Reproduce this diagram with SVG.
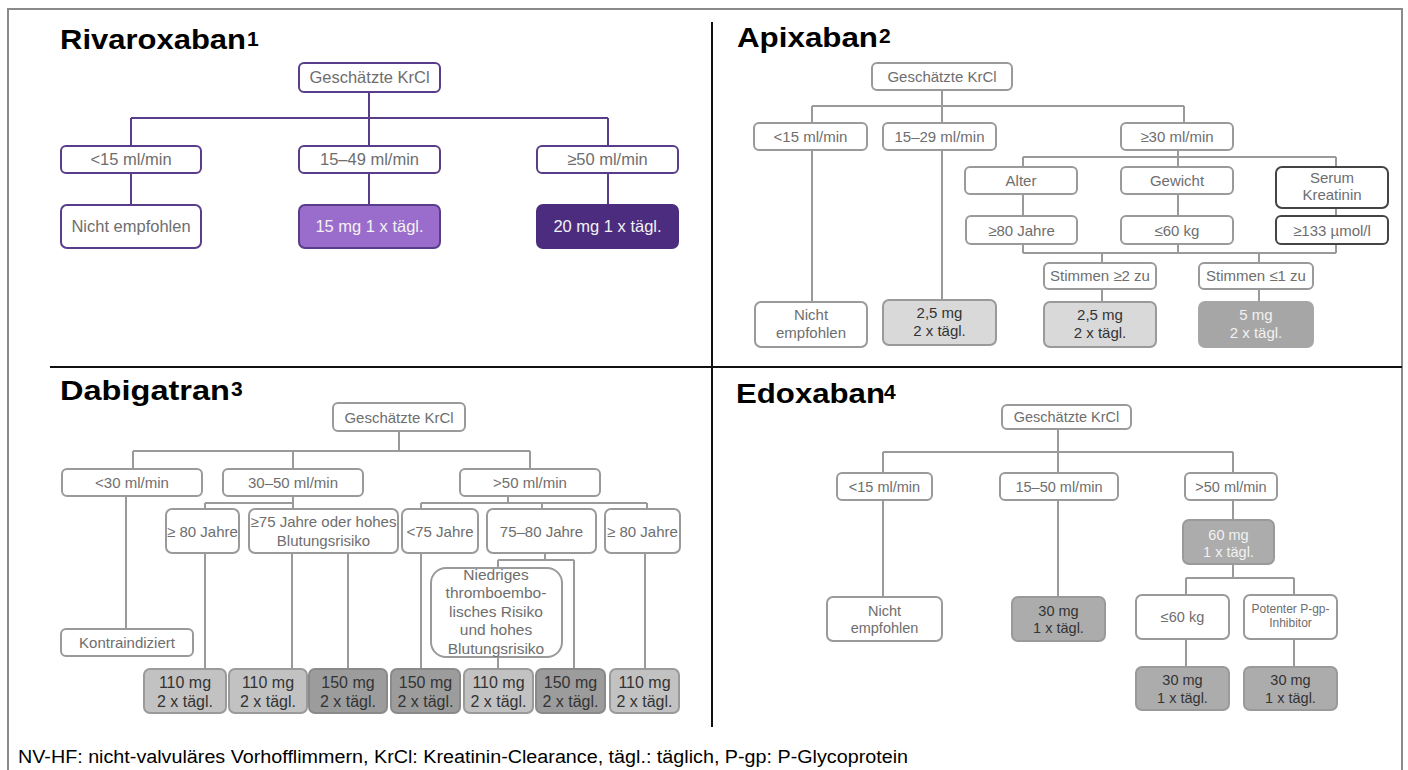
<svg xmlns="http://www.w3.org/2000/svg" width="1408" height="770" viewBox="0 0 1408 770">
<style>
text{font-family:"Liberation Sans",Arial,sans-serif}
.ti{font-weight:bold;font-size:28px;fill:#000}
.sup{font-weight:bold;font-size:21px;fill:#000}
.pb{fill:#fff;stroke:#5a3d8a;stroke-width:2}
.gb{fill:#fff;stroke:#9a9a9a;stroke-width:2}
.db{fill:#fff;stroke:#444;stroke-width:2}
.l1{fill:#d9d9d9;stroke:#9a9a9a;stroke-width:2}
.l2{fill:#c2c2c2;stroke:#9a9a9a;stroke-width:2}
.l3{fill:#9c9c9c;stroke:#8a8a8a;stroke-width:2}
.l4{fill:#acacac;stroke:#9a9a9a;stroke-width:2}
.tx{fill:#6e6e6e;text-anchor:middle}
.dk{fill:#333;text-anchor:middle}
.wt{fill:#f2f2f2;text-anchor:middle}
.pl{stroke:#5a3d8a;stroke-width:2;fill:none}
.gl{stroke:#9a9a9a;stroke-width:2;fill:none}
</style>
<rect x="8" y="9" width="1394" height="780" fill="#fff" stroke="#8a8a8a" stroke-width="2"/>
<g id="dividers">
<line x1="712" y1="22" x2="712" y2="727" stroke="#111" stroke-width="2"/>
<line x1="50" y1="367" x2="1402" y2="367" stroke="#111" stroke-width="2"/>
</g>
<g id="titles">
<text class="ti" x="60" y="49" textLength="186" lengthAdjust="spacingAndGlyphs">Rivaroxaban</text><text class="sup" x="247" y="46">1</text>
<text class="ti" x="737" y="47" textLength="141" lengthAdjust="spacingAndGlyphs">Apixaban</text><text class="sup" x="879" y="43">2</text>
<text class="ti" x="60" y="400" textLength="170" lengthAdjust="spacingAndGlyphs">Dabigatran</text><text class="sup" x="231" y="396">3</text>
<text class="ti" x="736" y="403" textLength="149" lengthAdjust="spacingAndGlyphs">Edoxaban</text><text class="sup" x="884" y="399">4</text>
</g>
<g id="connectors">
<path class="pl" d="M369,92V118M131,118H608M131,118V146M369,118V146M608,118V146M131,173V205M369,173V205M608,173V205"/>
<path class="gl" d="M942,90V106M812,106H1184M812,106V123M942,106V123M1184,106V123M1178,150V157M1023,157H1336M1023,157V167M1178,157V167M1336,157V167M1023,194V216M1178,194V216M1336,208V216M1023,244V253M1178,244V253M1336,244V253M1023,253H1336M1102,253V263M1259,253V263M1102,289V302M1259,289V302M812,150V302M942,150V300"/>
<path class="gl" d="M399,431V451M133,451H530M133,451V469M293,451V469M530,451V469M293,496V509M205,503H293M205,503V509M508,496V503M421,503H647M421,503V509M542,503V509M647,503V509M126,496V629M205,553V669M292,553V669M348,553V669M421,553V669M545,553V560M498,560H574M498,560V568M574,560V669M498,657V669M645,553V669"/>
<path class="gl" d="M1058,429V452M883,452H1233M883,452V473M1058,452V473M1233,452V473M883,500V597M1058,500V597M1233,500V520M1233,564V578M1186,578H1294M1186,578V595M1294,578V595M1186,639V667M1294,639V667"/>
</g>
<g font-size="16.5">
<g id="r-krcl"><rect class="pb" x="299" y="63" width="141" height="29" rx="5"/><text class="tx" x="369.5" y="83">Geschätzte KrCl</text></g>
<g id="r-lt15"><rect class="pb" x="61" y="146" width="140" height="27" rx="5"/><text class="tx" x="131" y="165">&lt;15 ml/min</text></g>
<g id="r-15-49"><rect class="pb" x="299" y="146" width="141" height="27" rx="5"/><text class="tx" x="369.5" y="165">15–49 ml/min</text></g>
<g id="r-ge50"><rect class="pb" x="537" y="146" width="141" height="27" rx="5"/><text class="tx" x="607.5" y="165">≥50 ml/min</text></g>
<g id="r-nicht"><rect class="pb" x="61" y="205" width="140" height="43" rx="6"/><text class="tx" x="131" y="232">Nicht empfohlen</text></g>
<g id="r-15mg"><rect x="299" y="205" width="141" height="43" rx="6" fill="#9a6ccb" stroke="#5a3d8a" stroke-width="2"/><text class="wt" x="369.5" y="232" fill="#fff">15 mg 1 x tägl.</text></g>
<g id="r-20mg"><rect x="537" y="205" width="141" height="43" rx="6" fill="#4c2c7e" stroke="#4c2c7e" stroke-width="2"/><text class="wt" x="607.5" y="232">20 mg 1 x tägl.</text></g>
</g>
<g font-size="15">
<g id="a-krcl"><rect class="gb" x="872" y="63" width="140" height="27" rx="5"/><text class="tx" x="942" y="81.5">Geschätzte KrCl</text></g>
<g id="a-lt15"><rect class="gb" x="754" y="123" width="113" height="27" rx="5"/><text class="tx" x="810.5" y="141.5">&lt;15 ml/min</text></g>
<g id="a-15-29"><rect class="gb" x="883" y="123" width="113" height="27" rx="5"/><text class="tx" x="939.5" y="141.5">15–29 ml/min</text></g>
<g id="a-ge30"><rect class="gb" x="1121" y="123" width="112" height="27" rx="5"/><text class="tx" x="1177" y="141.5">≥30 ml/min</text></g>
<g id="a-alter"><rect class="gb" x="965" y="167" width="112" height="27" rx="5"/><text class="tx" x="1021" y="185.5">Alter</text></g>
<g id="a-gewicht"><rect class="gb" x="1121" y="167" width="112" height="27" rx="5"/><text class="tx" x="1177" y="185.5">Gewicht</text></g>
<g id="a-serum"><rect class="db" x="1276" y="167" width="112" height="41" rx="6"/><text class="tx" x="1332" y="183">Serum</text><text class="tx" x="1332" y="200">Kreatinin</text></g>
<g id="a-80j"><rect class="gb" x="966" y="216" width="111" height="28" rx="5"/><text class="tx" x="1021.5" y="235.5">≥80 Jahre</text></g>
<g id="a-60kg"><rect class="gb" x="1121" y="216" width="112" height="28" rx="5"/><text class="tx" x="1177" y="235.5">≤60 kg</text></g>
<g id="a-133"><rect class="db" x="1276" y="216" width="112" height="28" rx="5"/><text class="tx" x="1332" y="235.5">≥133 µmol/l</text></g>
<g id="a-st2"><rect class="gb" x="1044" y="263" width="112" height="26" rx="5"/><text class="tx" x="1100" y="281">Stimmen ≥2 zu</text></g>
<g id="a-st1"><rect class="gb" x="1199" y="263" width="114" height="26" rx="5"/><text class="tx" x="1256" y="281">Stimmen ≤1 zu</text></g>
<g id="a-nicht"><rect class="gb" x="755" y="302" width="112" height="45" rx="6"/><text class="tx" x="811" y="320">Nicht</text><text class="tx" x="811" y="338">empfohlen</text></g>
<g id="a-25a"><rect class="l1" x="883" y="300" width="113" height="45" rx="6"/><text class="dk" x="939.5" y="318" fill="#444">2,5 mg</text><text class="dk" x="939.5" y="336">2 x tägl.</text></g>
<g id="a-25b"><rect class="l1" x="1044" y="302" width="112" height="45" rx="6"/><text class="dk" x="1100" y="320">2,5 mg</text><text class="dk" x="1100" y="338">2 x tägl.</text></g>
<g id="a-5mg"><rect x="1199" y="302" width="114" height="45" rx="6" fill="#a6a6a6" stroke="#a6a6a6" stroke-width="2"/><text class="wt" x="1256" y="320">5 mg</text><text class="wt" x="1256" y="338">2 x tägl.</text></g>
</g>
<g font-size="15">
<g id="d-krcl"><rect class="gb" x="333" y="403" width="132" height="28" rx="5"/><text class="tx" x="399" y="422.5">Geschätzte KrCl</text></g>
<g id="d-lt30"><rect class="gb" x="62" y="469" width="140" height="27" rx="5"/><text class="tx" x="132" y="487.5">&lt;30 ml/min</text></g>
<g id="d-30-50"><rect class="gb" x="223" y="469" width="140" height="27" rx="5"/><text class="tx" x="293" y="487.5">30–50 ml/min</text></g>
<g id="d-gt50"><rect class="gb" x="460" y="469" width="140" height="27" rx="5"/><text class="tx" x="530" y="487.5">&gt;50 ml/min</text></g>
<g id="d-80a"><rect class="gb" x="166" y="509" width="73" height="44" rx="6"/><text class="tx" x="202.5" y="536.5">≥ 80 Jahre</text></g>
<g id="d-75h"><rect class="gb" x="249" y="509" width="149" height="44" rx="6"/><text class="tx" x="323.5" y="527">≥75 Jahre oder hohes</text><text class="tx" x="323.5" y="546">Blutungsrisiko</text></g>
<g id="d-lt75"><rect class="gb" x="402" y="509" width="76" height="44" rx="6"/><text class="tx" x="440" y="536.5">&lt;75 Jahre</text></g>
<g id="d-75-80"><rect class="gb" x="487" y="509" width="109" height="44" rx="6"/><text class="tx" x="541.5" y="536.5">75–80 Jahre</text></g>
<g id="d-80b"><rect class="gb" x="605" y="509" width="75" height="44" rx="6"/><text class="tx" x="642.5" y="536.5">≥ 80 Jahre</text></g>
<g id="d-kontra"><rect class="gb" x="61" y="629" width="132" height="27" rx="5"/><text class="tx" x="127" y="648">Kontraindiziert</text></g>
<g id="d-niedrig"><rect class="gb" x="431" y="568" width="131" height="89" rx="15"/><text class="tx" x="496" y="580" font-size="15.5">Niedriges</text><text class="tx" x="496" y="598" font-size="15.5">thromboembo-</text><text class="tx" x="496" y="617" font-size="15.5">lisches Risiko</text><text class="tx" x="496" y="635" font-size="15.5">und hohes</text><text class="tx" x="496" y="654" font-size="15.5">Blutungsrisiko</text></g>
</g>
<g font-size="16">
<g id="d-dose1"><rect class="l2" x="144" y="669" width="82" height="44" rx="6"/><text class="dk" x="185" y="688">110 mg</text><text class="dk" x="185" y="707">2 x tägl.</text></g>
<g id="d-dose2"><rect class="l2" x="229" y="669" width="78" height="44" rx="6"/><text class="dk" x="268" y="688">110 mg</text><text class="dk" x="268" y="707">2 x tägl.</text></g>
<g id="d-dose3"><rect class="l3" x="309" y="669" width="78" height="44" rx="6"/><text class="dk" x="348" y="688">150 mg</text><text class="dk" x="348" y="707">2 x tägl.</text></g>
<g id="d-dose4"><rect class="l3" x="391" y="669" width="69" height="44" rx="6"/><text class="dk" x="425.5" y="688">150 mg</text><text class="dk" x="425.5" y="707">2 x tägl.</text></g>
<g id="d-dose5"><rect class="l2" x="464" y="669" width="69" height="44" rx="6" fill="#c9c9c9"/><text class="dk" x="498.5" y="688">110 mg</text><text class="dk" x="498.5" y="707">2 x tägl.</text></g>
<g id="d-dose6"><rect class="l3" x="536" y="669" width="69" height="44" rx="6"/><text class="dk" x="570.5" y="688">150 mg</text><text class="dk" x="570.5" y="707">2 x tägl.</text></g>
<g id="d-dose7"><rect class="l2" x="610" y="669" width="69" height="44" rx="6" fill="#c9c9c9"/><text class="dk" x="644.5" y="688">110 mg</text><text class="dk" x="644.5" y="707">2 x tägl.</text></g>
</g>
<g font-size="14.5">
<g id="e-krcl"><rect class="gb" x="1002" y="405" width="129" height="24" rx="5"/><text class="tx" x="1066.5" y="422">Geschätzte KrCl</text></g>
<g id="e-lt15"><rect class="gb" x="837" y="473" width="95" height="27" rx="5"/><text class="tx" x="884.5" y="491.5">&lt;15 ml/min</text></g>
<g id="e-15-50"><rect class="gb" x="1000" y="473" width="118" height="27" rx="5"/><text class="tx" x="1059" y="491.5">15–50 ml/min</text></g>
<g id="e-gt50"><rect class="gb" x="1185" y="473" width="92" height="27" rx="5"/><text class="tx" x="1231" y="491.5">&gt;50 ml/min</text></g>
<g id="e-60mg"><rect class="l4" x="1183" y="520" width="91" height="44" rx="6" fill="#b0b0b0"/><text class="wt" x="1228.5" y="540">60 mg</text><text class="wt" x="1228.5" y="557">1 x tägl.</text></g>
<g id="e-nicht"><rect class="gb" x="827" y="597" width="115" height="44" rx="6"/><text class="tx" x="884.5" y="616">Nicht</text><text class="tx" x="884.5" y="633">empfohlen</text></g>
<g id="e-30a"><rect class="l4" x="1012" y="597" width="93" height="44" rx="6"/><text class="dk" x="1058.5" y="616">30 mg</text><text class="dk" x="1058.5" y="633">1 x tägl.</text></g>
<g id="e-60kg"><rect class="gb" x="1136" y="595" width="93" height="44" rx="6"/><text class="tx" x="1182.5" y="622">≤60 kg</text></g>
<g id="e-pgp"><rect class="gb" x="1244" y="595" width="93" height="44" rx="6"/><text class="tx" x="1290.5" y="613" font-size="12">Potenter P-gp-</text><text class="tx" x="1290.5" y="627" font-size="12">Inhibitor</text></g>
<g id="e-30b"><rect class="l4" x="1136" y="667" width="93" height="43" rx="6"/><text class="dk" x="1182.5" y="685">30 mg</text><text class="dk" x="1182.5" y="703">1 x tägl.</text></g>
<g id="e-30c"><rect class="l4" x="1244" y="667" width="93" height="43" rx="6"/><text class="dk" x="1290.5" y="685">30 mg</text><text class="dk" x="1290.5" y="703">1 x tägl.</text></g>
</g>
<text id="footer" x="18" y="763" font-size="18" fill="#000" textLength="890" lengthAdjust="spacingAndGlyphs">NV-HF: nicht-valvuläres Vorhofflimmern, KrCl: Kreatinin-Clearance, tägl.: täglich, P-gp: P-Glycoprotein</text>
</svg>
